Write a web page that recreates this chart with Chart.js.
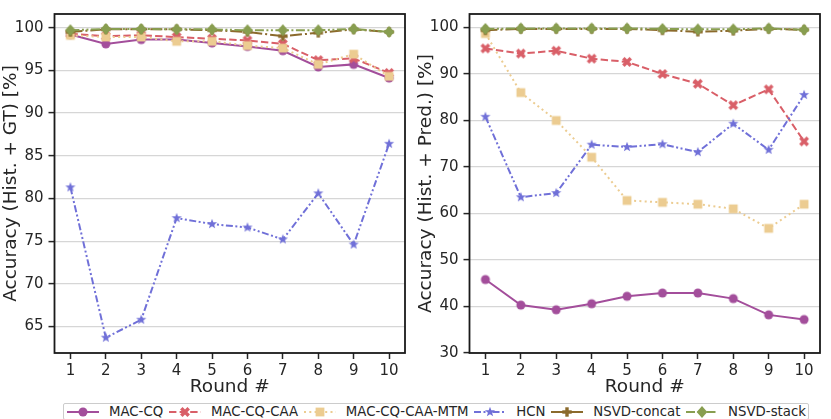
<!DOCTYPE html>
<html>
<head>
<meta charset="utf-8">
<script src="https://cdn.jsdelivr.net/npm/chart.js@4.4.1/dist/chart.umd.min.js"></script>
<style>
  body { margin: 0; background: #fff; width: 831px; height: 419px; overflow: hidden; position: relative; font-family: "DejaVu Sans", sans-serif; }
  canvas.plot { position: absolute; top: 0; }
  #legend { position: absolute; left: 63px; top: 403px; width: 740px; height: 15px; border: 1px solid #cccccc; border-radius: 2px;
            display: flex; justify-content: space-between; align-items: center; padding: 0 2px; font-size: 13.3px; color: #262626; box-sizing: content-box; }
  #legend .item { display: flex; align-items: center; white-space: nowrap; }
  #legend canvas { margin-right: 9px; }
</style>
</head>
<body>
<canvas class="plot" id="gtChart" width="415" height="398" style="left:0"></canvas>
<canvas class="plot" id="predChart" width="416" height="398" style="left:415px"></canvas>
<div id="legend"></div>
<script>
var rounds = [1, 2, 3, 4, 5, 6, 7, 8, 9, 10];
var names = ['MAC-CQ', 'MAC-CQ-CAA', 'MAC-CQ-CAA-MTM', 'HCN', 'NSVD-concat', 'NSVD-stack'];

// Accuracy (Hist. + GT)
var gtMacCq     = [99.2, 98.1, 98.6, 98.6, 98.2, 97.8, 97.3, 95.4, 95.7, 94.1];
var gtMacCqCaa  = [99.3, 99.0, 99.1, 98.9, 98.7, 98.5, 98.1, 96.2, 96.4, 94.7];
var gtMtm       = [99.1, 98.9, 98.9, 98.4, 98.4, 97.9, 97.6, 95.7, 96.9, 94.3];
var gtHcn       = [81.3, 63.7, 65.8, 77.7, 77.0, 76.6, 75.2, 80.6, 74.6, 86.4];
var gtConcat    = [99.5, 99.8, 99.8, 99.8, 99.7, 99.5, 99.0, 99.4, 99.8, 99.5];
var gtStack     = [99.7, 99.85, 99.85, 99.8, 99.8, 99.7, 99.7, 99.7, 99.85, 99.5];

// Accuracy (Hist. + Pred.)
var predMacCq    = [45.8, 40.3, 39.3, 40.6, 42.2, 42.9, 42.9, 41.7, 38.2, 37.2];
var predMacCqCaa = [95.5, 94.4, 95.0, 93.3, 92.6, 90.0, 87.9, 83.3, 86.7, 75.5];
var predMtm      = [98.7, 86.0, 80.0, 72.1, 62.8, 62.4, 62.0, 61.0, 56.8, 62.0];
var predHcn      = [80.8, 63.5, 64.4, 74.8, 74.3, 74.9, 73.2, 79.3, 73.7, 85.5];
var predConcat   = [99.4, 99.7, 99.7, 99.7, 99.7, 99.4, 99.1, 99.3, 99.7, 99.5];
var predStack    = [99.7, 99.8, 99.8, 99.8, 99.8, 99.7, 99.6, 99.6, 99.8, 99.5];

var gtTicksMin = 61.9, gtTicksMax = 101.6;
var predTicksMin = 30, predTicksMax = 102.9;

var colors = ['rgb(163,78,155)', 'rgb(217,95,104)', 'rgb(236,204,145)', 'rgb(112,112,216)', 'rgb(139,106,44)', 'rgb(136,158,80)'];
var dashes = [[], [7.4, 3.2], [2, 3.3], [7, 2.5, 2, 2.5, 2, 2.5], [12, 3, 2, 3], [9, 2.5, 2, 2.5, 2, 2.5]];
var shapes = ['circle', 'x', 'square', 'star', 'plus', 'diamond'];

function drawShape(c, shape, x, y) {
  c.beginPath();
  if (shape === 'circle') {
    c.arc(x, y, 4.5, 0, Math.PI * 2);
    c.fill();
  } else if (shape === 'square') {
    c.fillRect(x - 4.4, y - 4.4, 8.8, 8.8);
  } else if (shape === 'diamond') {
    c.moveTo(x, y - 5.9); c.lineTo(x + 5.3, y); c.lineTo(x, y + 5.9); c.lineTo(x - 5.3, y); c.closePath();
    c.fill();
  } else if (shape === 'star') {
    for (var i = 0; i < 10; i++) {
      var r = i % 2 === 0 ? 5.3 : 2.2;
      var a = -Math.PI / 2 + i * Math.PI / 5;
      c.lineTo(x + r * Math.cos(a), y + r * Math.sin(a));
    }
    c.closePath();
    c.fill();
  } else if (shape === 'x') {
    c.lineWidth = 3.5;
    c.moveTo(x - 3.7, y - 3.7); c.lineTo(x + 3.7, y + 3.7);
    c.moveTo(x - 3.7, y + 3.7); c.lineTo(x + 3.7, y - 3.7);
    c.stroke();
  } else if (shape === 'plus') {
    c.fillRect(x - 4.7, y - 1.7, 9.4, 3.4);
    c.fillRect(x - 1.7, y - 4.7, 3.4, 9.4);
  }
}

function makeMarker(shape, color) {
  var cv = document.createElement('canvas');
  cv.width = 14; cv.height = 14;
  var c = cv.getContext('2d');
  c.fillStyle = color; c.strokeStyle = color;
  drawShape(c, shape, 7, 7);
  return cv;
}

function buildDatasets(series) {
  return series.map(function (vals, i) {
    return {
      label: names[i],
      data: rounds.map(function (r, k) { return { x: r, y: vals[k] }; }),
      borderColor: colors[i],
      backgroundColor: colors[i],
      borderWidth: 2,
      borderDash: dashes[i],
      pointStyle: makeMarker(shapes[i], colors[i]),
      pointRadius: 5,
      tension: 0,
      order: 6 - i
    };
  });
}

var frame = {
  id: 'frame',
  afterDraw: function (chart) {
    var a = chart.chartArea, c = chart.ctx;
    c.save();
    c.strokeStyle = '#1a1a1a';
    c.lineWidth = 1.8;
    c.strokeRect(a.left, a.top, a.right - a.left, a.bottom - a.top);
    c.restore();
  }
};

function makeChart(id, series, yMin, yMax, yStep, yTitle, rightPad) {
  return new Chart(document.getElementById(id), {
    type: 'line',
    data: { datasets: buildDatasets(series) },
    options: {
      responsive: false,
      animation: false,
      layout: { padding: { top: 5, right: rightPad, left: 0, bottom: 0 } },
      plugins: { legend: { display: false }, tooltip: { enabled: false } },
      scales: {
        x: {
          type: 'linear', min: 0.55, max: 10.45,
          ticks: { stepSize: 1, includeBounds: false, padding: 3, color: '#262626', font: { family: 'DejaVu Sans', size: 15 }, maxRotation: 0 },
          grid: { drawOnChartArea: false, drawTicks: true, tickLength: 6, tickColor: '#262626', tickWidth: 1.5 },
          border: { display: false },
          title: { display: true, text: 'Round #', color: '#262626', padding: { top: 0, bottom: 0 }, font: { family: 'DejaVu Sans', size: 18.5 } },
          afterFit: function (s) { s.height = 45; }
        },
        y: {
          min: yMin, max: yMax,
          ticks: { stepSize: yStep, includeBounds: false, padding: 5, color: '#262626', font: { family: 'DejaVu Sans', size: 15 } },
          grid: { color: '#d6d6d6', lineWidth: 1.2, tickLength: 6, tickColor: '#262626', tickWidth: 1.5 },
          border: { display: false },
          title: { display: true, text: yTitle, color: '#262626', padding: { top: 0, bottom: 0 }, font: { family: 'DejaVu Sans', size: 18.5 } },
          afterFit: function (s) { s.width = 54.5; }
        }
      }
    },
    plugins: [frame]
  });
}

makeChart('gtChart', [gtMacCq, gtMacCqCaa, gtMtm, gtHcn, gtConcat, gtStack], gtTicksMin, gtTicksMax, 5, 'Accuracy (Hist. + GT) [%]', 10);
makeChart('predChart', [predMacCq, predMacCqCaa, predMtm, predHcn, predConcat, predStack], predTicksMin, predTicksMax, 10, 'Accuracy (Hist. + Pred.) [%]', 11);

// legend spanning both panels
var legend = document.getElementById('legend');
names.forEach(function (n, i) {
  var item = document.createElement('div');
  item.className = 'item';
  var cv = document.createElement('canvas');
  cv.width = 34; cv.height = 14;
  var c = cv.getContext('2d');
  c.strokeStyle = colors[i]; c.fillStyle = colors[i];
  c.lineWidth = 2;
  c.setLineDash(dashes[i]);
  c.beginPath(); c.moveTo(1, 7); c.lineTo(33, 7); c.stroke();
  c.setLineDash([]);
  drawShape(c, shapes[i], 17, 7);
  item.appendChild(cv);
  var t = document.createElement('span');
  t.textContent = n;
  item.appendChild(t);
  legend.appendChild(item);
});
</script>
</body>
</html>
